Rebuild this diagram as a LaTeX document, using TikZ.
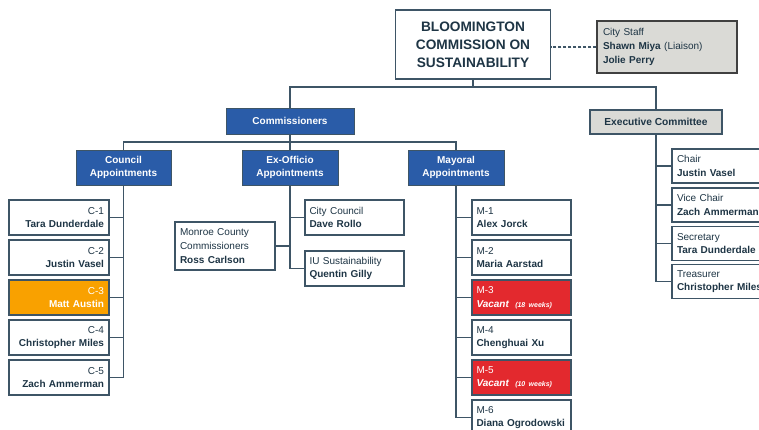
\documentclass[tikz,border=0pt]{standalone}
\usepackage{fontspec}
\setmainfont{Liberation Sans}
\definecolor{edge}{HTML}{3E5566}
\definecolor{ink}{HTML}{1E3545}
\definecolor{navy}{HTML}{2A5CA8}
\definecolor{amber}{HTML}{F9A100}
\definecolor{alert}{HTML}{E3292E}
\definecolor{stone}{HTML}{DADAD6}
\tikzset{
  box/.style={draw=edge, line width=1.2pt, fill=white, text=ink, inner sep=0pt,
    font=\fontsize{10}{13.5}\selectfont},
  seat/.style={box, minimum width=100pt, minimum height=35pt, text width=90pt, align=left},
  seatr/.style={seat, align=right},
  head/.style={draw=edge, line width=0.8pt, fill=navy, text=white, inner sep=0pt,
    align=center, font=\fontsize{10}{13}\selectfont\bfseries},
  link/.style={draw=edge, line width=1.3pt},
}
\newcommand{\vacant}[1]{\textbf{\textit{Vacant}}\hspace{6pt}{\fontsize{7}{13}\selectfont\bfseries\itshape(#1 weeks)}}

\begin{document}
\begin{tikzpicture}[x=1pt,y=-1pt]
  \useasboundingbox (0,0) rectangle (759,430);
  \clip (0,0) rectangle (759,430);

  \node[box, minimum width=155pt, minimum height=69pt, align=center,
    font=\fontsize{13.7}{18}\selectfont\bfseries] (bcs) at (473,44.5)
    {BLOOMINGTON\\COMMISSION ON\\SUSTAINABILITY};
  \node[box, draw=black!75, fill=stone, minimum width=140pt, minimum height=52pt,
    text width=128pt, align=left, font=\fontsize{10}{14}\selectfont] (staff) at (667,47)
    {City Staff\\\textbf{Shawn Miya} (Liaison)\\\textbf{Jolie Perry}};

  \node[head, minimum width=128pt, minimum height=26pt] (comm) at (290,121) {Commissioners};
  \node[head, minimum width=95pt, minimum height=35pt] (council) at (123.5,167.5) {Council\\Appointments};
  \node[head, minimum width=96pt, minimum height=35pt] (exo) at (290,167.5) {Ex-Officio\\Appointments};
  \node[head, minimum width=96pt, minimum height=35pt] (mayoral) at (456,167.5) {Mayoral\\Appointments};
  \node[box, fill=stone, minimum width=132pt, minimum height=24pt, font=\fontsize{10.2}{12}\selectfont\bfseries]
    (exec) at (656,122) {Executive Committee};

  \node[seatr] (c1) at (59,217.5) {C-1\\\textbf{Tara Dunderdale}};
  \node[seatr] (c2) at (59,257.5) {C-2\\\textbf{Justin Vasel}};
  \node[seatr, fill=amber, text=white] (c3) at (59,297.5) {C-3\\\textbf{Matt Austin}};
  \node[seatr] (c4) at (59,337.5) {C-4\\\textbf{Christopher Miles}};
  \node[seatr] (c5) at (59,377.5) {C-5\\\textbf{Zach Ammerman}};

  \node[seat, minimum height=48pt, font=\fontsize{10}{14}\selectfont] (monroe) at (225,246)
    {Monroe County\\Commissioners\\\textbf{Ross Carlson}};
  \node[seat, minimum width=99pt] (cc) at (354.5,217.5) {City Council\\\textbf{Dave Rollo}};
  \node[seat, minimum width=99pt] (iu) at (354.5,268.5) {IU Sustainability\\\textbf{Quentin Gilly}};

  \node[seat, minimum width=99pt] (m1) at (521.5,217.5) {M-1\\\textbf{Alex Jorck}};
  \node[seat, minimum width=99pt] (m2) at (521.5,257.5) {M-2\\\textbf{Maria Aarstad}};
  \node[seat, minimum width=99pt, fill=alert, text=white] (m3) at (521.5,297.5) {M-3\\\vacant{18}};
  \node[seat, minimum width=99pt] (m4) at (521.5,337.5) {M-4\\\textbf{Chenghuai Xu}};
  \node[seat, minimum width=99pt, fill=alert, text=white] (m5) at (521.5,377.5) {M-5\\\vacant{10}};
  \node[seat, minimum width=99pt] (m6) at (521.5,417.5) {M-6\\\textbf{Diana Ogrodowski}};

  \node[seat, minimum height=34pt] (chair) at (722,166) {Chair\\\textbf{Justin Vasel}};
  \node[seat, minimum height=34pt] (vice) at (722,205) {Vice Chair\\\textbf{Zach Ammerman}};
  \node[seat, minimum height=34pt] (sec) at (722,243.5) {Secretary\\\textbf{Tara Dunderdale}};
  \node[seat, minimum height=34pt] (treas) at (722,281.5) {Treasurer\\\textbf{Christopher Miles}};

  \coordinate (top) at (473,87);
  \coordinate (mid) at (290,142);
  \draw[link] (bcs.south) -- (top);
  \draw[link] (comm.north) |- (top) -| (exec.north);
  \draw[link] (comm.south) -- (mid);
  \draw[link] (council.north) |- (mid) -| (mayoral.north);
  \draw[link] (mid) -- (exo.north);
  \draw[link, dash pattern=on 3pt off 2pt] (staff.west) -- (staff.west -| bcs.east);
  \foreach \n in {1,...,5}
    \draw[link] (council.south) |- (c\n.east);
  \foreach \n in {cc,iu,monroe}
    \draw[link] (exo.south) |- (\n);
  \foreach \n in {1,...,6}
    \draw[link] (mayoral.south) |- (m\n.west);
  \foreach \n in {chair,vice,sec,treas}
    \draw[link] (exec.south) |- (\n.west);
\end{tikzpicture}
\end{document}
